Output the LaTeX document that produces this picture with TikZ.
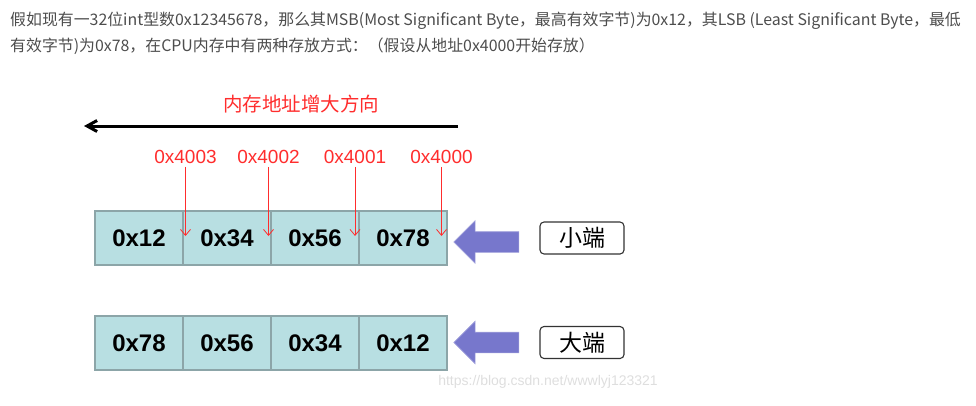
\documentclass[tikz,border=0pt]{standalone}
\usepackage{fontspec}
\setmainfont{Noto Sans CJK SC}
\setsansfont{Liberation Sans}
\usetikzlibrary{matrix,arrows.meta,shapes.arrows}
\definecolor{cellfill}{RGB}{184,223,226}
\definecolor{cellline}{RGB}{140,165,168}
\definecolor{addrred}{RGB}{255,45,45}
\definecolor{ptrfill}{RGB}{119,119,204}
\definecolor{introgray}{RGB}{77,77,77}

\begin{document}
\begin{tikzpicture}[x=1pt, y=-1pt, every node/.style={inner sep=0pt},
	byterow/.style={matrix of nodes, nodes={minimum width=88pt, minimum height=54pt, anchor=center, draw=cellline, fill=cellfill, line width=1.2pt, font=\sffamily\bfseries\fontsize{24}{24}\selectfont}, column sep=-1.2pt},
	addr/.style={font=\sffamily\fontsize{19}{19}\selectfont, text=addrred, inner sep=3pt},
	addrline/.style={draw=addrred, line width=0.8pt, -{Straight Barb[length=6pt,width=10pt]}},
	ptr/.style={single arrow, shape border rotate=180, fill=ptrfill, draw=ptrfill!70, line width=0.6pt, inner xsep=0pt, inner ysep=10pt, minimum height=65pt, single arrow head extend=11pt},
	tag/.style={draw=black!80, line width=1.1pt, rounded corners=4pt, minimum width=84pt, minimum height=32pt, font=\fontsize{23}{23}\selectfont}]
	\useasboundingbox (0,0) rectangle (976,405);
	\node[anchor=north west, align=left, text=introgray, font=\fontsize{15.9}{26}\selectfont] (intro) at (10,12) {假如现有一32位int型数0x12345678，那么其MSB(Most Significant Byte，最高有效字节)为0x12，其LSB (Least Significant Byte，最低\\有效字节)为0x78，在CPU内存中有两种存放方式：（假设从地址0x4000开始存放）};
	\node[font=\fontsize{19.5}{19.5}\selectfont, text=addrred] (dir) at (301,104) {内存地址增大方向};
	\coordinate (grow0) at (458,126);
	\coordinate (grow1) at (84,126);
	\draw[line width=3pt, -{Straight Barb[length=10pt,width=11pt]}] (grow0) -- (grow1);
	\matrix (le) [byterow] at (271,238) {0x12 & 0x34 & 0x56 & 0x78 \\};
	\matrix (be) [byterow] at (271,343) {0x78 & 0x56 & 0x34 & 0x12 \\};
	\node[addr] (a3) at (185.5,157) {0x4003};
	\node[addr] (a2) at (268.5,157) {0x4002};
	\node[addr] (a1) at (355,157) {0x4001};
	\node[addr] (a0) at (441.5,157) {0x4000};
	\coordinate (tip) at (0,236);
	\foreach \a in {a3,a2,a1,a0} \draw[addrline] (\a.south) -- (\a.south |- tip);
	\node[ptr] (lp) at (491.5,242) {};
	\node[ptr] (bp) at (491.5,342.5) {};
	\node[tag] (lt) at (582,238) {小端};
	\node[tag] (bt) at (582,342.5) {大端};
	\node[text=black!13, font=\sffamily\fontsize{14}{14}\selectfont] (wm) at (548,382) {https://blog.csdn.net/wwwlyj123321};
\end{tikzpicture}
\end{document}
